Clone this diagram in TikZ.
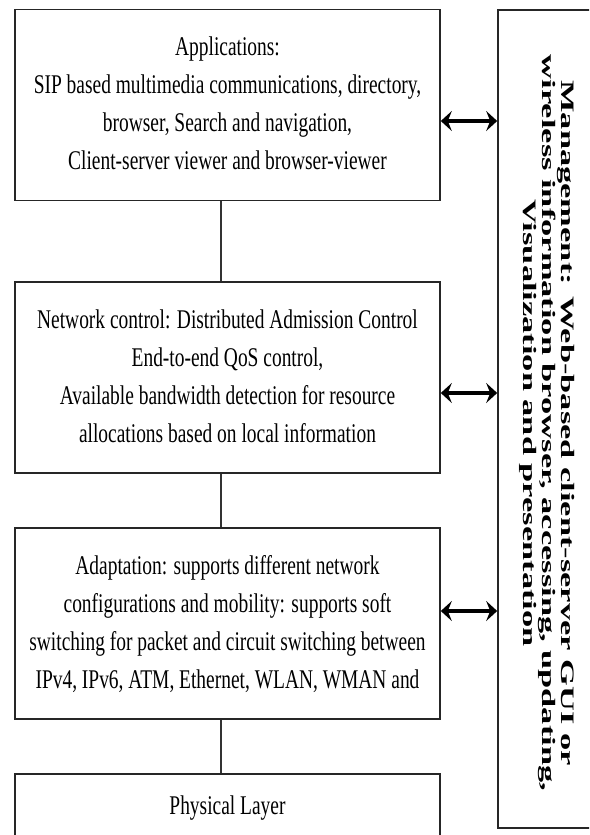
\documentclass[tikz,border=0pt]{standalone}
\usepackage{fontspec}
\setmainfont{Liberation Serif}
\usepackage{graphicx}
\usetikzlibrary{arrows.meta}
\tikzset{
  layer/.style={draw=black!85, line width=1.6pt, rectangle, minimum width=425pt, minimum height=191pt, inner sep=0pt},
  mgmt/.style={draw=black!85, line width=1.6pt, rectangle, minimum width=96pt, minimum height=818pt, inner sep=0pt},
  link/.style={draw=black!80, line width=1.5pt},
  dbl/.style={line width=3.6pt, {Stealth[length=11pt,width=20pt,inset=4pt]}-{Stealth[length=11pt,width=20pt,inset=4pt]}}
}
\newcommand{\boxtext}[1]{\scalebox{0.72}[1]{\fontsize{27}{38}\selectfont\begin{tabular}{@{}c@{}}#1\end{tabular}}}
\begin{document}
\begin{tikzpicture}[x=1pt,y=-1pt]
\useasboundingbox (0,0) rectangle (589,835);
\clip (0,0) rectangle (589,835);
\node[layer] (app) at (227.5,105) {\boxtext{Applications:\\SIP based multimedia communications, directory,\\browser, Search and navigation,\\Client-server viewer and browser-viewer}};
\node[layer] (net) at (227.5,377.5) {\boxtext{Network control: Distributed Admission Control\\End-to-end QoS control,\\Available bandwidth detection for resource\\allocations based on local information}};
\node[layer] (ada) at (227.5,623.5) {\boxtext{Adaptation: supports different network\\configurations and mobility: supports soft\\switching for packet and circuit switching between\\IPv4, IPv6, ATM, Ethernet, WLAN, WMAN and}};
\node[layer] (phy) at (227.5,869.5) {};
\node[inner sep=0pt] (phytext) at ([yshift=-34pt]phy.north) {\boxtext{Physical Layer}};
\node[mgmt] (man) at (546,419) {};
\node[rotate=-90, inner sep=0pt] (mantext) at (546,423) {\scalebox{1.72}[0.95]{\fontsize{20}{20}\selectfont\bfseries\begin{tabular}{@{}c@{}}Management: Web-based client-server GUI or\\wireless information browser, accessing, updating,\\Visualization and presentation\end{tabular}}};
\coordinate (cx) at (221,0);
\draw[link] (app.south -| cx) -- (net.north -| cx);
\draw[link] (net.south -| cx) -- (ada.north -| cx);
\draw[link] (ada.south -| cx) -- (phy.north -| cx);
\coordinate (a1) at (0,121);
\coordinate (a2) at (0,393);
\coordinate (a3) at (0,611);
\draw[dbl] (app.east |- a1) -- (man.west |- a1);
\draw[dbl] (net.east |- a2) -- (man.west |- a2);
\draw[dbl] (ada.east |- a3) -- (man.west |- a3);
\end{tikzpicture}
\end{document}
